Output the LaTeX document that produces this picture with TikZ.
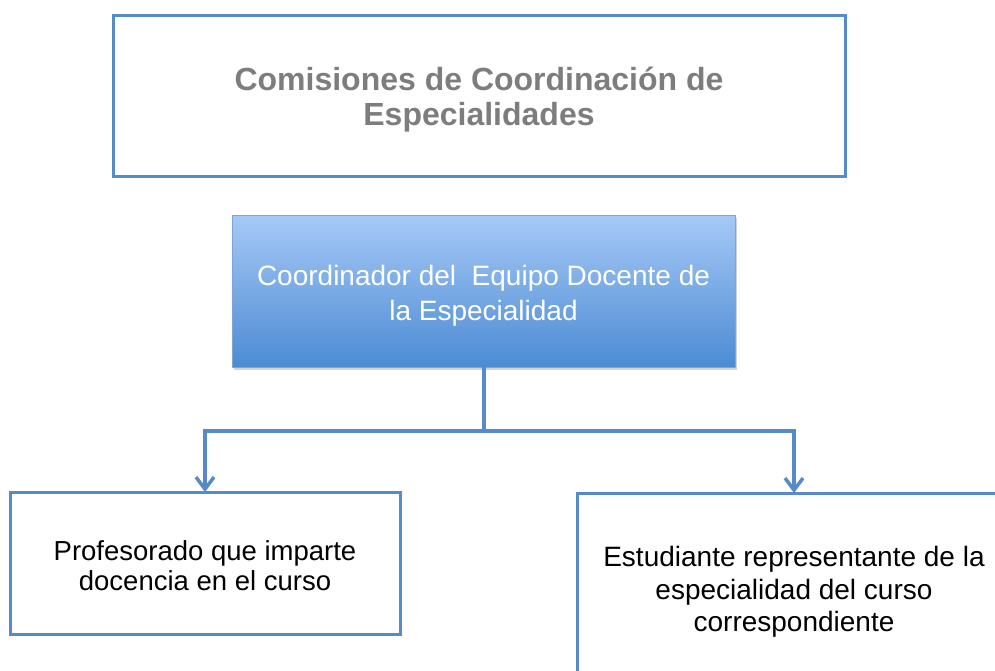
\documentclass[tikz,border=0pt]{standalone}
\usepackage{fontspec}
\setmainfont{Liberation Sans}
\usetikzlibrary{arrows.meta,shadows}
\definecolor{lineblue}{RGB}{86,138,200}
\definecolor{gradtop}{RGB}{166,201,247}
\definecolor{gradbot}{RGB}{76,139,211}
\definecolor{midborder}{RGB}{125,165,215}
\definecolor{titlegray}{RGB}{125,125,125}
\tikzset{
  plainbox/.style={draw=lineblue, line width=3pt, fill=white, inner sep=0pt, outer sep=0pt},
  gradbox/.style={draw=midborder, line width=1pt, top color=gradtop, bottom color=gradbot,
    inner sep=0pt, outer sep=0pt,
    drop shadow={opacity=0.35, shadow xshift=2pt, shadow yshift=-3pt}},
  boxtext/.style={inner sep=0pt, align=center},
  conn/.style={draw=lineblue, line width=3.5pt},
  arr/.style={conn, -{Straight Barb[length=12pt, width=18pt, line width=3.5pt]}}
}
\begin{document}
\begin{tikzpicture}[x=1pt, y=-1pt]
\clip (0,0) rectangle (995,670);
\fill[white] (0,0) rectangle (995,670);
\node[plainbox, minimum width=732pt, minimum height=161pt] (top) at (479,95.5) {};
\node[boxtext, font=\fontsize{32}{35}\selectfont\bfseries, text=titlegray]
  (toptext) at ([yshift=-4pt]top.center) {Comisiones de Coordinación de\\Especialidades};
\node[gradbox, minimum width=503pt, minimum height=152pt] (mid) at (483.5,291) {};
\node[boxtext, font=\fontsize{28}{34.5}\selectfont, text=white]
  (midtext) at ([yshift=-5pt]mid.center) {Coordinador del\ \ Equipo Docente de\\la Especialidad};
\node[plainbox, minimum width=390pt, minimum height=142pt] (left) at (205,563) {};
\node[boxtext, font=\fontsize{27.5}{30}\selectfont]
  (lefttext) at ([yshift=-3pt]left.center) {Profesorado que imparte\\docencia en el curso};
\node[plainbox, minimum width=434pt, minimum height=192pt] (right) at (794,589) {};
\node[boxtext, font=\fontsize{28}{32.5}\selectfont]
  (righttext) at ([yshift=-3pt]right.center) {Estudiante representante de la\\especialidad del curso\\correspondiente};
\coordinate (junc) at (484,431);
\draw[conn] (mid.south -| junc) -- (junc);
\draw[arr] (junc) -| (left.north);
\draw[arr] (junc) -| (right.north);
\end{tikzpicture}
\end{document}
